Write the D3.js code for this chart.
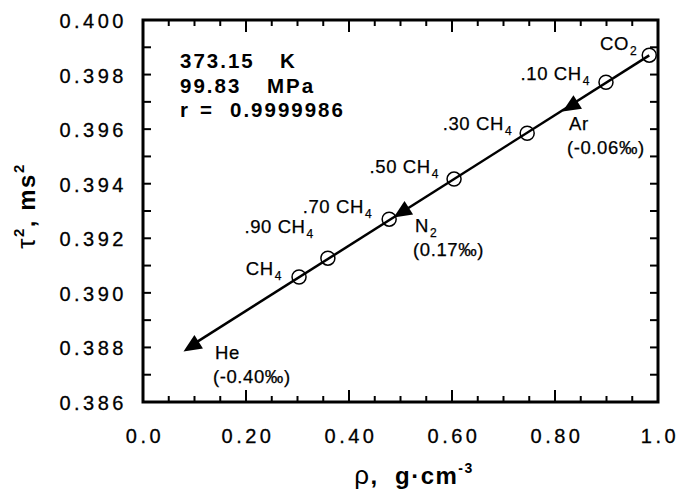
<!DOCTYPE html>
<html>
<head>
<meta charset="utf-8">
<script src="https://cdn.jsdelivr.net/npm/d3@7"></script>
<style>
  body { margin: 0; background: #fff; }
  svg { display: block; font-family: "Liberation Sans", Arial, Helvetica, sans-serif; }
  text { white-space: pre; }
</style>
</head>
<body>
<div class="graph"></div>
<script>
// data
const gases = ["He", "CH4", ".90 CH4", ".70 CH4", "N2", ".50 CH4", ".30 CH4", "Ar", ".10 CH4", "CO2"];
const density = [0.095, 0.303, 0.359, 0.478, 0.503, 0.604, 0.746, 0.831, 0.899, 0.983];
const tau2 = [0.38805, 0.39058, 0.39127, 0.39270, 0.39296, 0.39417, 0.39585, 0.39684, 0.39772, 0.39871];
const markerType = ["triangle", "circle", "circle", "circle", "triangle", "circle", "circle", "triangle", "circle", "circle"];
const deviation = ["(-0.40‰)", "", "", "", "(0.17‰)", "", "", "(-0.06‰)", "", ""];
const xTicks = [0, 0.2, 0.4, 0.6, 0.8, 1.0];
const xTickLabels = ["0.0", "0.20", "0.40", "0.60", "0.80", "1.0"];
const yTicks = [0.386, 0.388, 0.390, 0.392, 0.394, 0.396, 0.398, 0.400];
const yTickLabels = ["0.386", "0.388", "0.390", "0.392", "0.394", "0.396", "0.398", "0.400"];
const infoLines = [["373.15", "K"], ["99.83", "MPa"], ["r", "=", "0.9999986"]];

const width = 679, height = 489;
const padL = 143, padR = 658, padT = 20, padB = 402;

let svg = d3.select(".graph").append("svg")
    .attr("width", width)
    .attr("height", height);

let x = d3.scaleLinear().domain([0, 1]).range([padL, padR]);
let y = d3.scaleLinear().domain([0.386, 0.400]).range([padB, padT]);

// minor ticks every 0.05 / 0.001
let xMinor = d3.range(0, 1.0001, 0.05);
let yMinor = d3.range(0, 15).map(i => 0.386 + i * 0.001);

let ticks = svg.append("g").attr("stroke", "#000").attr("stroke-width", 2);
xMinor.forEach(v => {
    let big = xTicks.some(t => Math.abs(t - v) < 1e-6);
    let len = big ? 12 : 6;
    ticks.append("line").attr("x1", x(v)).attr("x2", x(v)).attr("y1", padB).attr("y2", padB - len);
    ticks.append("line").attr("x1", x(v)).attr("x2", x(v)).attr("y1", padT).attr("y2", padT + len);
});
yMinor.forEach(v => {
    ticks.append("line").attr("x1", padL).attr("x2", padL + 8).attr("y1", y(v)).attr("y2", y(v));
    ticks.append("line").attr("x1", padR).attr("x2", padR - 8).attr("y1", y(v)).attr("y2", y(v));
});

// frame
svg.append("rect")
    .attr("x", padL).attr("y", padT)
    .attr("width", padR - padL).attr("height", padB - padT)
    .attr("fill", "none").attr("stroke", "#000").attr("stroke-width", 3);

// tick labels
svg.selectAll(".xtl").data(xTicks).enter().append("text")
    .attr("x", d => x(d) + 2)
    .attr("y", 443)
    .attr("text-anchor", "middle")
    .attr("font-size", 20)
    .attr("letter-spacing", 3.5)
    .attr("stroke", "#000").attr("stroke-width", 0.3)
    .text((d, i) => xTickLabels[i]);

svg.selectAll(".ytl").data(yTicks).enter().append("text")
    .attr("x", 127)
    .attr("y", d => y(d) + 8)
    .attr("text-anchor", "end")
    .attr("font-size", 20)
    .attr("letter-spacing", 3.5)
    .attr("stroke", "#000").attr("stroke-width", 0.3)
    .text((d, i) => yTickLabels[i]);

// least squares line through the points
let mx = d3.mean(density), my = d3.mean(tau2);
let sxy = d3.sum(density, (d, i) => (d - mx) * (tau2[i] - my));
let sxx = d3.sum(density, d => (d - mx) * (d - mx));
let slope = sxy / sxx, icpt = my - slope * mx;
let x0 = d3.min(density), x1 = d3.max(density);
svg.append("line")
    .attr("x1", x(x0)).attr("y1", y(icpt + slope * x0))
    .attr("x2", x(x1)).attr("y2", y(icpt + slope * x1))
    .attr("stroke", "#000").attr("stroke-width", 2.5);

// arrow direction along the line, pointing down-left
let ang = Math.atan2(y(icpt + slope * x0) - y(icpt + slope * x1), x(x0) - x(x1)) * 180 / Math.PI;

let pts = density.map((d, i) => ({name: gases[i], x: x(d), y: y(tau2[i]), type: markerType[i], dev: deviation[i]}));

svg.selectAll(".pt").data(pts.filter(p => p.type === "circle")).enter().append("circle")
    .attr("cx", d => d.x).attr("cy", d => d.y).attr("r", 7)
    .attr("fill", "none").attr("stroke", "#000").attr("stroke-width", 1.5);

svg.selectAll(".tri").data(pts.filter(p => p.type === "triangle")).enter().append("path")
    .attr("d", "M10,0 L-8,-8 L-8,8 Z")
    .attr("transform", d => "translate(" + d.x + "," + d.y + ") rotate(" + ang + ")")
    .attr("fill", "#000");

// point labels: [dx, dy, anchor] relative to the marker
const labelLayout = {
    "CO2": [-12, -5, "end"],
    ".10 CH4": [-16, -2, "end"],
    ".30 CH4": [-15, -3, "end"],
    ".50 CH4": [-15, -6, "end"],
    ".70 CH4": [-17, -6, "end"],
    ".90 CH4": [-14, -25, "end"],
    "CH4": [-17, -2, "end"],
    "He": [23, 13, "start"],
    "N2": [13, 20, "start"],
    "Ar": [-2, 24, "start"]
};

pts.forEach(p => {
    let lay = labelLayout[p.name];
    let m = p.name.match(/^(.*?)(\d)$/);
    let t = svg.append("text")
        .attr("x", p.x + lay[0]).attr("y", p.y + lay[1])
        .attr("text-anchor", lay[2])
        .attr("font-size", 18.5)
        .attr("letter-spacing", 0.6)
        .attr("stroke", "#000").attr("stroke-width", 0.25);
    t.append("tspan").text(m ? m[1] : p.name);
    if (m) {
        t.append("tspan").attr("font-size", 12).attr("dy", 5).attr("dx", 1).text(m[2]);
    }
    if (p.dev) {
        svg.append("text")
            .attr("x", p.x + lay[0] - 2).attr("y", p.y + lay[1] + 24)
            .attr("font-size", 18.5)
            .attr("letter-spacing", 0.6)
            .attr("stroke", "#000").attr("stroke-width", 0.25)
            .text(p.dev);
    }
});

// info box
const infoX = [[180, 280], [180, 267], [180, 200, 230]];
infoLines.forEach((line, i) => {
    line.forEach((word, j) => {
        svg.append("text")
            .attr("x", infoX[i][j])
            .attr("y", 68 + i * 24.5)
            .attr("font-size", 20.5)
            .attr("font-weight", "bold")
            .attr("letter-spacing", 2)
            .text(word);
    });
});

// axis titles
let yt = svg.append("text")
    .attr("transform", "translate(35,206) rotate(-90)")
    .attr("text-anchor", "middle")
    .attr("font-size", 24)
    .attr("font-weight", "bold")
    .attr("letter-spacing", 1.5);
yt.append("tspan").attr("font-weight", "normal").attr("font-size", 26).text("τ");
yt.append("tspan").attr("font-size", 15).attr("dy", -11).text("2");
yt.append("tspan").attr("dy", 11).text(", ms");
yt.append("tspan").attr("font-size", 15).attr("dy", -11).text("2");

let xt = svg.append("text")
    .attr("x", 414).attr("y", 484)
    .attr("text-anchor", "middle")
    .attr("font-size", 24)
    .attr("font-weight", "bold")
    .attr("letter-spacing", 1.5);
xt.append("tspan").attr("font-weight", "normal").attr("font-size", 26).text("ρ");
xt.append("tspan").text(",  g·cm");
xt.append("tspan").attr("font-size", 14).attr("dy", -11).text("-3");
</script>
</body>
</html>
